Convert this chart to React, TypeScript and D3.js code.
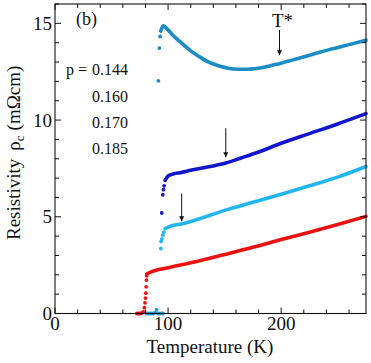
import React from "react";
import * as d3 from "d3";

// ---- data: [Temperature (K), resistivity (mΩcm)] ----
const p144Line: [number, number][] = [
  [93.5, 14.6], [95.8, 14.87], [98.8, 14.73], [104.7, 14.36], [110, 14.08], [115, 13.82],
  [120, 13.58], [127, 13.3], [135, 13.02], [146, 12.78], [158, 12.64], [170, 12.63],
  [184, 12.72], [199, 12.93], [214, 13.17], [228.6, 13.41], [245, 13.68], [260, 13.9], [275, 14.13],
];
const p144Dots: [number, number][] = [[91.4, 12.03], [92.3, 13.72], [92.9, 14.32]];

const p160Line: [number, number][] = [
  [97.3, 6.88], [100.3, 7.12], [105, 7.22], [110.6, 7.28], [120, 7.4], [128, 7.5],
  [140, 7.63], [151, 7.78], [165, 8.05], [180, 8.35], [200, 8.8], [225, 9.3], [250, 9.8], [275, 10.33],
];
const p160Dots: [number, number][] = [[94.4, 5.2], [95.3, 6.14], [95.9, 6.4], [96.5, 6.6]];

const p170Line: [number, number][] = [
  [97.3, 4.39], [104.7, 4.56], [112, 4.63], [120, 4.75], [128, 4.9], [150, 5.33],
  [175, 5.75], [200, 6.17], [225, 6.6], [250, 7.05], [275, 7.6],
];
const p170Dots: [number, number][] = [[93.6, 3.36], [93.8, 3.72], [94.4, 3.85], [95.3, 4.05], [96.2, 4.2]];
const zeroBlueDots: [number, number][] = [
  [81, 0], [82.5, 0], [84, 0], [85.5, 0], [87, 0], [88.5, 0.05], [89.8, 0.2], [91, 0], [92.5, 0], [94, 0], [95.5, 0],
];

const p185Line: [number, number][] = [
  [81.2, 2.05], [84, 2.13], [100, 2.37], [120, 2.62], [150, 3.05], [175, 3.42],
  [200, 3.82], [225, 4.2], [250, 4.6], [275, 5.02],
];
const p185Dots: [number, number][] = [
  [72.5, 0], [74, 0], [75.5, 0], [76.7, 0.03], [78, 0.08], [79, 0.3], [79.6, 0.55],
  [80, 0.8], [80.3, 1.05], [80.6, 1.38], [80.9, 1.73], [81.1, 1.95],
];

const dopings = ["0.144", "0.160", "0.170", "0.185"];
const xTicks = [0, 100, 200];
const yTicks = [0, 5, 10, 15];

// arrows: [T, value at tail, value at tip]
const arrows: [number, number, number][] = [
  [198.5, 14.66, 13.35],
  [151, 9.58, 8.08],
  [112, 6.2, 4.77],
];

const COL144 = "#1b8cc4";
const COL160 = "#1216cc";
const COL170 = "#22b6ee";
const COL185 = "#ee1111";
const COLZERO = "#2a9ad8";

const SERIF = '"Liberation Serif"';

export default function App() {
  const W = 371, H = 363;
  const L = 55, R = 366, T = 4, B = 313.5;
  const x = d3.scaleLinear().domain([0, 275]).range([L, R]);
  const y = d3.scaleLinear().domain([0, 16]).range([B, T]);
  const line = d3
    .line<[number, number]>()
    .x((d) => x(d[0]))
    .y((d) => y(d[1]))
    .curve(d3.curveMonotoneX);

  const xMinor = d3.range(0, 276, 20);
  const yMinor = d3.range(0, 16.01, 1);

  const series: { line: [number, number][]; dots: [number, number][]; color: string }[] = [
    { line: p185Line, dots: p185Dots, color: COL185 },
    { line: p170Line, dots: p170Dots, color: COL170 },
    { line: p160Line, dots: p160Dots, color: COL160 },
    { line: p144Line, dots: p144Dots, color: COL144 },
  ];

  const ts: React.CSSProperties = { fontFamily: SERIF };

  return (
    <svg width={W} height={H} style={{ position: "fixed", left: 0, top: 0, background: "#fff" }}>
      <rect x={0} y={0} width={W} height={H} fill="#fff" />
      <defs>
        <marker id="ah" viewBox="0 0 10 10" refX="10" refY="5" markerWidth="7" markerHeight="5" orient="auto" markerUnits="userSpaceOnUse">
          <path d="M0,0 L10,5 L0,10 z" fill="#111" />
        </marker>
      </defs>

      {/* zero-resistance dots */}
      {zeroBlueDots.map((d, i) => (
        <circle key={"z" + i} cx={x(d[0])} cy={y(d[1])} r={1.9} fill={COLZERO} />
      ))}

      {series.map((s, k) => (
        <g key={k}>
          <path d={line(s.line) || ""} fill="none" stroke={s.color} strokeWidth={3.6} strokeLinecap="round" />
          {s.dots.map((d, i) => (
            <circle key={i} cx={x(d[0])} cy={y(d[1])} r={1.9} fill={s.color} />
          ))}
        </g>
      ))}

      {/* arrows */}
      {arrows.map((a, i) => (
        <line
          key={"a" + i}
          x1={x(a[0])}
          x2={x(a[0])}
          y1={y(a[1])}
          y2={y(a[2])}
          stroke="#111"
          strokeWidth={1}
          markerEnd="url(#ah)"
        />
      ))}
      <text x={x(arrows[0][0]) + 3} y={27} fontSize={19} textAnchor="middle" fill="#111" style={ts}>
        T*
      </text>

      {/* frame */}
      <rect x={L} y={T} width={R - L} height={B - T} fill="none" stroke="#111" strokeWidth={1.1} />

      {/* ticks */}
      {xMinor.map((v) => {
        const len = v % 100 === 0 ? 6 : 4;
        return (
          <g key={"xt" + v} stroke="#111" strokeWidth={1}>
            <line x1={x(v)} x2={x(v)} y1={B} y2={B - len} />
            <line x1={x(v)} x2={x(v)} y1={T} y2={T + len} />
          </g>
        );
      })}
      {yMinor.map((v) => {
        const len = v % 5 === 0 ? 6 : 4;
        return (
          <g key={"yt" + v} stroke="#111" strokeWidth={1}>
            <line x1={L} x2={L + len} y1={y(v)} y2={y(v)} />
            <line x1={R} x2={R - len} y1={y(v)} y2={y(v)} />
          </g>
        );
      })}

      {/* tick labels */}
      {xTicks.map((v) => (
        <text key={"xl" + v} x={x(v)} y={330} fontSize={19} textAnchor="middle" fill="#111" style={ts}>
          {v}
        </text>
      ))}
      {yTicks.map((v) => (
        <text key={"yl" + v} x={52} y={y(v) + 6.5} fontSize={19} textAnchor="end" fill="#111" style={ts}>
          {v}
        </text>
      ))}

      {/* axis titles */}
      <text x={210} y={353} fontSize={19} textAnchor="middle" fill="#111" style={ts}>
        Temperature (K)
      </text>
      <g transform="translate(20,240) rotate(-90)">
        <text x={0} y={0} fontSize={19} fill="#111" style={ts}>
          Resistivity
          <tspan dx={8}>ρ</tspan>
          <tspan dy={4} fontSize={13}>c</tspan>
          <tspan dy={-4} dx={5}>(mΩcm)</tspan>
        </text>
      </g>

      {/* panel label and legend */}
      <text x={76} y={25} fontSize={18} fill="#111" style={ts}>
        (b)
      </text>
      {dopings.map((p, i) => (
        <text key={"p" + i} x={92} y={[75, 101.5, 128, 153.5][i]} fontSize={16} fill="#111" style={ts}>
          {p}
        </text>
      ))}
      <text x={66} y={75} fontSize={16} fill="#111" style={ts}>
        p =
      </text>
    </svg>
  );
}
